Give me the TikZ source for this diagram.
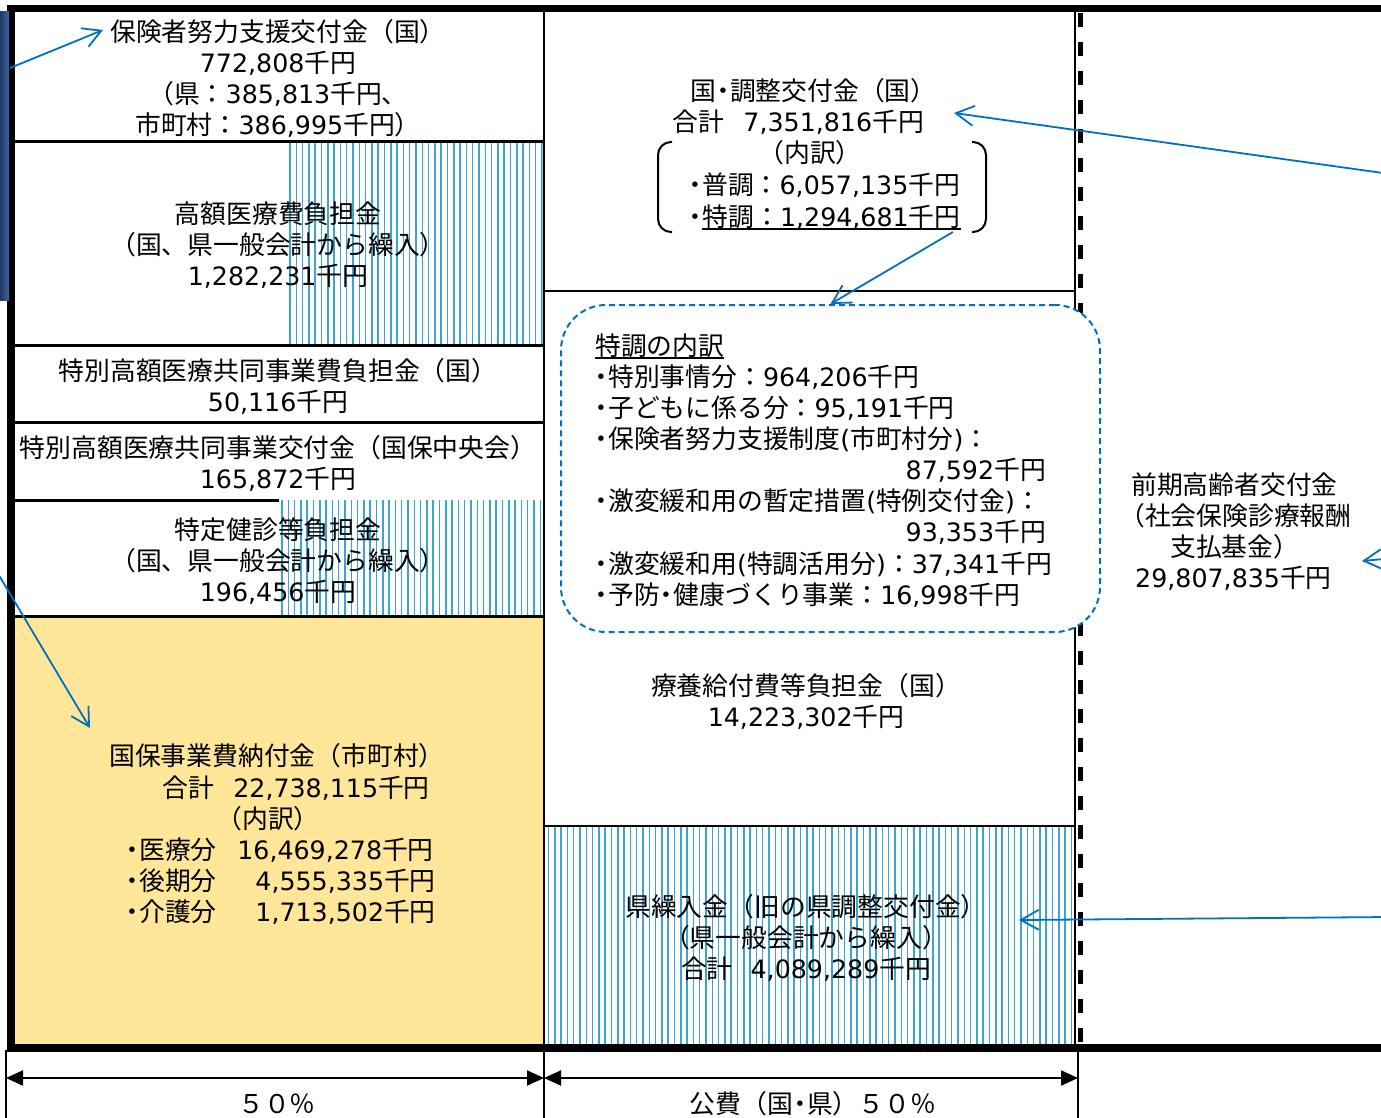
\documentclass[tikz,border=0pt]{standalone}
\usepackage{fontspec}
\setmainfont{DejaVu Sans}
\newfontfamily\latf{DejaVu Sans}
\newfontfamily\cjkf[Scale=1.02]{Noto Sans CJK JP}
\usetikzlibrary{arrows.meta}
\XeTeXinterchartokenstate=1
\newXeTeXintercharclass\cjkcls
\newcount\cjkcc
\def\setcjkrange#1#2{\cjkcc=#1\relax
  \loop\XeTeXcharclass\cjkcc=\cjkcls\relax
  \ifnum\cjkcc<#2\relax\advance\cjkcc by 1\relax\repeat}
\setcjkrange{"3000}{"30FF}
\setcjkrange{"4E00}{"9FFF}
\setcjkrange{"FF00}{"FFEF}
\XeTeXinterchartoks 0 \cjkcls = {\cjkf}
\XeTeXinterchartoks 4095 \cjkcls = {\cjkf}
\XeTeXinterchartoks \cjkcls 0 = {\latf}
\XeTeXinterchartoks 4095 0 = {\latf}
\newcommand{\nk}{\makebox[14pt]{・}}
\definecolor{hatchc}{RGB}{60,165,205}
\definecolor{arrowc}{RGB}{0,112,192}
\definecolor{yel}{RGB}{255,230,153}
\definecolor{navyA}{RGB}{30,55,100}
\definecolor{navyB}{RGB}{60,100,160}
\tikzset{
  fnt/.style={font=\fontsize{25.3}{31}\selectfont},
  txt/.style={fnt, inner sep=0pt, align=center},
  lbl/.style={fnt, inner sep=0pt, anchor=base west},
  lblr/.style={fnt, inner sep=0pt, anchor=base east},
  lblc/.style={fnt, inner sep=0pt, anchor=base},
  sepline/.style={line width=3pt},
  midline/.style={line width=2.4pt},
  hatchline/.style={draw=hatchc, line width=1.5pt},
  bluearrow/.style={draw=arrowc, line width=1.8pt, -{Straight Barb[length=18pt,width=20pt]}},
  dimarrow/.style={line width=2pt, {Triangle[length=17pt,width=15pt]}-{Triangle[length=17pt,width=15pt]}},
  tboxstyle/.style={draw=arrowc, line width=2pt, dash pattern=on 6pt off 4pt, fill=white, rounded corners=45pt, inner sep=0pt},
  brack/.style={line width=2pt, rounded corners=13pt},
}
\newcommand{\hatchbox}[4]{%
  \fill[white] (#1,#2) rectangle (#3,#4);
  \begin{scope}
    \clip (#1,#2) rectangle (#3,#4);
    \foreach \hi in {0,...,86} {\draw[hatchline] ({#1+3+6.3*\hi},#2) -- ({#1+3+6.3*\hi},#4);}
  \end{scope}}
\begin{document}
\begin{tikzpicture}[x=1pt,y=-1pt]
\useasboundingbox (0,0) rectangle (1381,1118);
\clip (0,0) rectangle (1381,1118);
% fills
\fill[yel] (14,616) rectangle (544,1045);
\hatchbox{287}{143.5}{542.5}{343.5}
\hatchbox{279}{500}{542.5}{614.5}
\hatchbox{545.5}{827}{1074}{1044}
% left column separators
\draw[sepline] (14,142) -- (544,142);
\draw[sepline] (14,345) -- (544,345);
\draw[sepline] (14,422) -- (544,422);
\draw[sepline] (14,500) -- (279,500);
\draw[sepline] (14,616) -- (544,616);
% middle column separators
\draw[midline] (544,291) -- (1075,291);
\draw[midline] (544,826) -- (1075,826);
% verticals
\draw[line width=2.3pt] (544,12) -- (544,1118);
\draw[midline] (1075,12) -- (1075,1048);
\draw[line width=5pt, dash pattern=on 14pt off 15pt] (1080.5,13) -- (1080.5,1044);
% thick frame bars
\fill (7,5) rectangle (1381,12.5);
\fill (7,5) rectangle (15,1052);
\fill (7,1044) rectangle (1381,1052);
\shade[left color=navyA, right color=navyB] (0,12) rectangle (9,300);
% dimension lines
\draw[line width=2pt] (6,1050) -- (6,1118);
\draw[line width=2pt] (1078,1050) -- (1078,1118);
\coordinate (dl) at (6,1078);
\coordinate (dm) at (544,1078);
\coordinate (dr) at (1078,1078);
\draw[dimarrow] (dl) -- (dm);
\draw[dimarrow] (dm) -- (dr);
\node[lblc] (p1) at (277,1113) {５０％};
\node[lblc] (p2) at (813,1113) {公費（国\nk 県）５０％};
% dashed breakdown box
\node[tboxstyle, minimum width=539pt, minimum height=327pt] (tbox) at (830.5,468.5) {};
% left column texts
\node[txt] (r1) at (278,78.5) {保険者努力支援交付金（国）\\772,808千円\\（県：385,813千円、\\市町村：386,995千円）};
\node[txt] (r2) at (278,245.5) {高額医療費負担金\\（国、県一般会計から繰入）\\1,282,231千円};
\node[txt] (r3) at (278,386) {特別高額医療共同事業費負担金（国）\\50,116千円};
\node[txt] (r4) at (278,463) {特別高額医療共同事業交付金（国保中央会）\\165,872千円};
\node[txt] (r5) at (278,561.5) {特定健診等負担金\\（国、県一般会計から繰入）\\196,456千円};
\node[lblc] (y1) at (277,765) {国保事業費納付金（市町村）};
\node[lbl] (y2a) at (162,797) {合計};
\node[lblr] (y2b) at (430,797) {22,738,115千円};
\node[lblc] (y3) at (268,828) {（内訳）};
\node[lbl] (y4a) at (125,859) {\nk 医療分};
\node[lblr] (y4b) at (434,859) {16,469,278千円};
\node[lbl] (y5a) at (125,890) {\nk 後期分};
\node[lblr] (y5b) at (436,890) {4,555,335千円};
\node[lbl] (y6a) at (125,921) {\nk 介護分};
\node[lblr] (y6b) at (436,921) {1,713,502千円};
% middle top texts
\node[lbl] (m1) at (690,101) {国\nk 調整交付金（国）};
\node[lbl] (m2a) at (672,132) {合計};
\node[lblr] (m2b) at (924,132) {7,351,816千円};
\node[lblc] (m3) at (810,163) {（内訳）};
\node[lbl] (m4) at (688,195) {\nk 普調：6,057,135千円};
\node[lbl] (m5a) at (688,226) {\nk};
\node[lbl] (m5b) at (m5a.base east) {特調：1,294,681千円};
\draw[line width=1.4pt] ([yshift=-3pt]m5b.base west) -- ([yshift=-3pt]m5b.base east);
\draw[brack] (672,142) -- (658,142) -- (658,232) -- (672,232);
\draw[brack] (972,142) -- (986,142) -- (986,232) -- (972,232);
% breakdown texts
\node[lbl] (t0) at (595,355) {特調の内訳};
\draw[line width=1.4pt] ([yshift=-3pt]t0.base west) -- ([yshift=-3pt]t0.base east);
\node[lbl] (t1) at (594,386) {\nk 特別事情分：964,206千円};
\node[lbl] (t2) at (594,417) {\nk 子どもに係る分：95,191千円};
\node[lbl] (t3) at (594,448) {\nk 保険者努力支援制度(市町村分)：};
\node[lblr] (t4) at (1046,479) {87,592千円};
\node[lbl] (t5) at (594,510) {\nk 激変緩和用の暫定措置(特例交付金)：};
\node[lblr] (t6) at (1046,541) {93,353千円};
\node[lbl] (t7) at (594,573) {\nk 激変緩和用(特調活用分)：37,341千円};
\node[lbl] (t8) at (594,604) {\nk 予防\nk 健康づくり事業：16,998千円};
% middle lower texts
\node[txt] (mb) at (806,701) {療養給付費等負担金（国）\\14,223,302千円};
\node[txt] (mc) at (806,938) {県繰入金（旧の県調整交付金）\\（県一般会計から繰入）\\合計\hspace{18pt}4,089,289千円};
% right column
\node[lbl] (rc1) at (1131,494) {前期高齢者交付金};
\node[lbl] (rc2) at (1119,525) {（社会保険診療報酬};
\node[lbl] (rc3) at (1170,556) {支払基金）};
\node[lbl] (rc4) at (1135,587) {29,807,835千円};
% blue arrows
\coordinate (a1s) at (10,68);
\coordinate (a1e) at (103,30);
\draw[bluearrow] (a1s) -- (a1e);
\coordinate (a2s) at (1390,174);
\coordinate (a2e) at (954,113);
\draw[bluearrow] (a2s) -- (a2e);
\coordinate (a3s) at (953,232);
\draw[bluearrow] (a3s) -- (tbox.north);
\coordinate (a4s) at (-3,572);
\coordinate (a4e) at (90,728);
\draw[bluearrow] (a4s) -- (a4e);
\coordinate (a5s) at (1395,558);
\coordinate (a5e) at (1362,561);
\draw[bluearrow] (a5s) -- (a5e);
\coordinate (a6s) at (1390,917);
\coordinate (a6e) at (1019,920);
\draw[bluearrow] (a6s) -- (a6e);
\end{tikzpicture}
\end{document}
